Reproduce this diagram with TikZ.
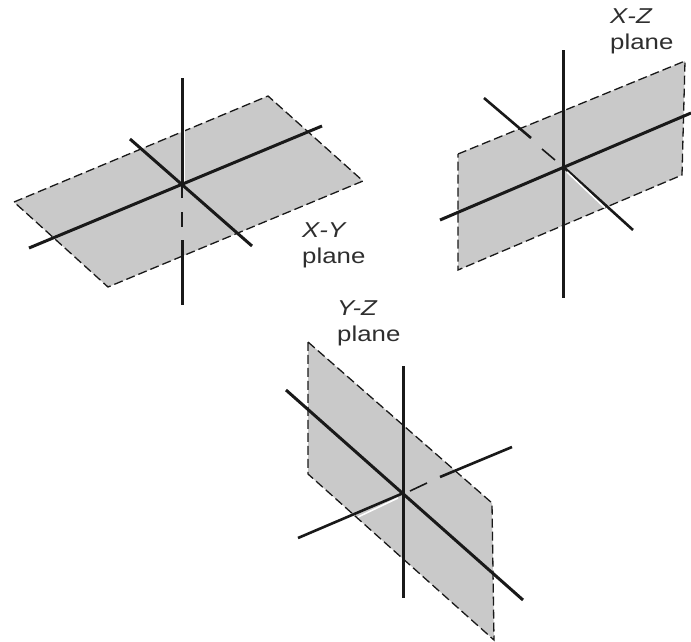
\documentclass[tikz,border=0pt]{standalone}
\usepackage{fontspec}
\setmainfont{Liberation Sans}
\definecolor{planegray}{gray}{0.79}
\definecolor{inkc}{gray}{0.1}
\tikzset{
  x=1pt,y=-1pt,
  plane/.style={fill=planegray,draw=inkc,line width=1.3pt,dash pattern=on 9pt off 4pt},
  axis/.style={draw=inkc,line width=3pt},
  thinaxis/.style={draw=inkc,line width=2.6pt},
  hidden/.style={draw=inkc,line width=1.6pt},
  halo/.style={draw=white,line width=1.5pt},
  lab/.style={inner sep=0pt,align=left,anchor=north west,text=black!82,font=\fontsize{21.5}{26}\selectfont,xscale=1.2,transform shape}
}
\begin{document}
\begin{tikzpicture}
\useasboundingbox (0,0) rectangle (691,641);
% ---- X-Y plane
\coordinate (a1) at (14,202); \coordinate (a2) at (268,96);
\coordinate (a3) at (363,181); \coordinate (a4) at (108,287);
\coordinate (ao) at (182,184);
\coordinate (avt) at (182,78); \coordinate (avb) at (182,305);
\coordinate (avd) at (182,240);
\coordinate (avh) at (182,116);
\coordinate (axl) at (29,248); \coordinate (axr) at (322,126);
\coordinate (ayl) at (130,139); \coordinate (ayr) at (252,246);
\coordinate (ad1) at (182,198); \coordinate (ad2) at (182,212);
\coordinate (ad3) at (182,227);
\draw[plane] (a1) -- (a2) -- (a3) -- (a4) -- cycle;
\draw[axis] (avt) -- (ao);
\draw[halo] ([xshift=2.6pt]avh) -- ([xshift=2.6pt]ao);
\draw[hidden] (ao) -- (ad1);
\draw[hidden] (ad2) -- (ad3);
\draw[axis] (avd) -- (avb);
\draw[axis] (axl) -- (axr);
\draw[axis] (ayl) -- (ayr);
\node[lab] (xyl) at (302,223) {\textit{X-Y}\\plane};
% ---- X-Z plane
\coordinate (b1) at (458,154); \coordinate (b2) at (685,61);
\coordinate (b3) at (682,175); \coordinate (b4) at (458,270);
\coordinate (bo) at (563.5,167);
\coordinate (bvt) at (563,50); \coordinate (bvb) at (563,298);
\coordinate (bxl) at (440,220); \coordinate (bxr) at (691,113);
\coordinate (byl) at (484,98); \coordinate (byr) at (633,230);
\coordinate (byd) at (531,138);
\coordinate (byda) at (542,149); \coordinate (bydb) at (555,160);
\draw[plane] (b1) -- (b2) -- (b3) -- (b4) -- cycle;
\draw[thinaxis] (byl) -- (byd);
\draw[hidden] (byda) -- (bydb);
\draw[thinaxis] (bo) -- (byr);
\draw[halo] (567,172) -- (605,208);
\draw[axis] (bvt) -- (bvb);
\draw[axis] (bxl) -- (bxr);
\node[lab] (xzl) at (610,9) {\textit{X-Z}\\plane};
% ---- Y-Z plane
\coordinate (c1) at (308,342); \coordinate (c2) at (492,503);
\coordinate (c3) at (494,640); \coordinate (c4) at (308,474);
\coordinate (co) at (403.5,493);
\coordinate (cvt) at (403,366); \coordinate (cvb) at (403,598);
\coordinate (cml) at (286,390); \coordinate (cmr) at (523,600);
\coordinate (csl) at (298,538); \coordinate (csr) at (512,447);
\coordinate (csd) at (440,477); \coordinate (cse) at (427,483);
\coordinate (csf) at (410,491);
\draw[plane] (c1) -- (c2) -- (c3) -- (c4) -- cycle;
\draw[thinaxis] (csl) -- (co);
\draw[halo] (358,517) -- (398,498);
\draw[hidden] (csf) -- (cse);
\draw[thinaxis] (csd) -- (csr);
\draw[axis] (cvt) -- (cvb);
\draw[axis] (cml) -- (cmr);
\node[lab] (yzl) at (337,300) {\textit{Y-Z}\\plane};
\end{tikzpicture}
\end{document}
